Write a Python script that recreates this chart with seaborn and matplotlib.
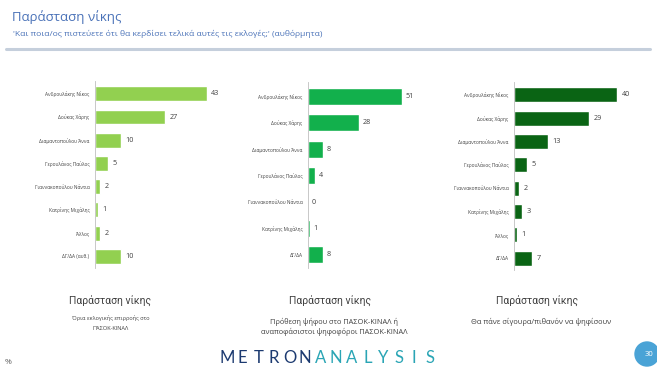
import matplotlib
matplotlib.use('Agg')
import matplotlib.pyplot as plt
import seaborn as sns
import pandas as pd
from matplotlib.patches import Circle

# Data (%)
cats_1 = ["Ανδρουλάκης Νίκος", "Δούκας Χάρης", "Διαμαντοπούλου Άννα", "Γερουλάνος Παύλος",
          "Γιαννακοπούλου Νάντια", "Κατρίνης Μιχάλης", "Άλλος", "ΔΓ/ΔΑ (αυθ.)"]
vals_1 = [43, 27, 10, 5, 2, 1, 2, 10]

cats_2 = ["Ανδρουλάκης Νίκος", "Δούκας Χάρης", "Διαμαντοπούλου Άννα", "Γερουλάνος Παύλος",
          "Γιαννακοπούλου Νάντια", "Κατρίνης Μιχάλης", "ΔΓ/ΔΑ"]
vals_2 = [51, 28, 8, 4, 0, 1, 8]

cats_3 = ["Ανδρουλάκης Νίκος", "Δούκας Χάρης", "Διαμαντοπούλου Άννα", "Γερουλάνος Παύλος",
          "Γιαννακοπούλου Νάντια", "Κατρίνης Μιχάλης", "Άλλος", "ΔΓ/ΔΑ"]
vals_3 = [40, 29, 13, 5, 2, 3, 1, 7]

panel_titles = ["Παράσταση νίκης"] * 3
panel_notes = [["Όρια εκλογικής επιρροής στο", "ΠΑΣΟΚ-ΚΙΝΑΛ"],
               ["Πρόθεση ψήφου στο ΠΑΣΟΚ-ΚΙΝΑΛ ή", "αναποφάσιστοι ψηφοφόροι ΠΑΣΟΚ-ΚΙΝΑΛ"],
               ["Θα πάνε σίγουρα/πιθανόν να ψηφίσουν"]]

sns.set_theme(style="white")
plt.rcParams['font.family'] = ['Open Sans', 'DejaVu Sans']

W, H = 657, 371
fig = plt.figure(figsize=(W / 100, H / 100), dpi=100)
fig.patch.set_facecolor('white')

def px_axes(x0, y0, x1, y1):
    # pixel box (top-left origin) -> figure axes
    return fig.add_axes([x0 / W, 1 - y1 / H, (x1 - x0) / W, (y1 - y0) / H])

title_blue = "#4a72b8"
fig.text(12 / W, 1 - 17 / H, "Παράσταση νίκης", color=title_blue, fontsize=9.5,
         va='center', ha='left')
fig.text(13 / W, 1 - 34 / H, "'Και ποια/ος πιστεύετε ότι θα κερδίσει τελικά αυτές τις εκλογές;' (αυθόρμητα)",
         color=title_blue, fontsize=6.1, va='center', ha='left')
fig.add_artist(plt.Line2D([6 / W, 650 / W], [1 - 49 / H, 1 - 49 / H], color="#c5cfdc", lw=2.2))

# colour, axes box in px, x-limit, title centre, note centre, note size, note line y's
panels = [
    (cats_1, vals_1, "#92d050", (95, 81, 225, 268), 50, 110, 111, 4.1, [318, 328]),
    (cats_2, vals_2, "#12b04c", (308, 82, 418, 268), 60, 330, 334, 5.3, [322, 332]),
    (cats_3, vals_3, "#0a6414", (514, 82, 643, 270), 50, 537, 541, 5.4, [322]),
]

for i, (cats, vals, col, box, xmax, cx, nx, nsize, ny) in enumerate(panels):
    ax = px_axes(*box)
    df = pd.DataFrame({"cat": cats, "val": vals})
    sns.barplot(data=df, x="val", y="cat", color=col, saturation=1, width=0.64, ax=ax)
    for j, v in enumerate(vals):
        ax.text(v + xmax * 0.035, j, str(v), va='center', ha='left', fontsize=5.2, color="#404040")
    ax.set_xlim(0, xmax)
    ax.set_ylim(len(cats) - 0.5, -0.55)
    ax.set_xlabel("")
    ax.set_ylabel("")
    ax.set_xticks([])
    ax.tick_params(axis='y', length=0, pad=4, labelsize=3.4, labelcolor="#404040")
    for s in ["top", "right", "bottom"]:
        ax.spines[s].set_visible(False)
    ax.spines["left"].set_color("#bfbfbf")
    ax.spines["left"].set_linewidth(0.6)
    ax.patch.set_alpha(0)

    fig.text(cx / W, 1 - 301 / H, panel_titles[i], fontsize=7.5, color="#404040",
             ha='center', va='center', family=['Roboto', 'DejaVu Sans'])
    for line, y in zip(panel_notes[i], ny):
        fig.text(nx / W, 1 - y / H, line, fontsize=nsize, color="#404040",
                 ha='center', va='center')

# logo, letters spread evenly
logo = "METRONANALYSIS"
for k, ch in enumerate(logo):
    c = "#1c3a70" if k < 6 else "#2aa5b5"
    fig.text((227 + k * 15.6) / W, 1 - 358 / H, ch, fontsize=12, color=c,
             ha='center', va='center', family=['Lato', 'DejaVu Sans'])
fig.text(8 / W, 1 - 362 / H, "%", fontsize=6, color="#606060", ha='center', va='center')

badge = Circle((647 / 100, (H - 354) / 100), 0.12, transform=fig.dpi_scale_trans,
               color="#4aa3d6", zorder=5)
fig.add_artist(badge)
fig.text(649 / W, 1 - 355 / H, "30", fontsize=5.5, color="white", ha='center', va='center', zorder=6)

fig.savefig("out.png", dpi=100, facecolor='white')
